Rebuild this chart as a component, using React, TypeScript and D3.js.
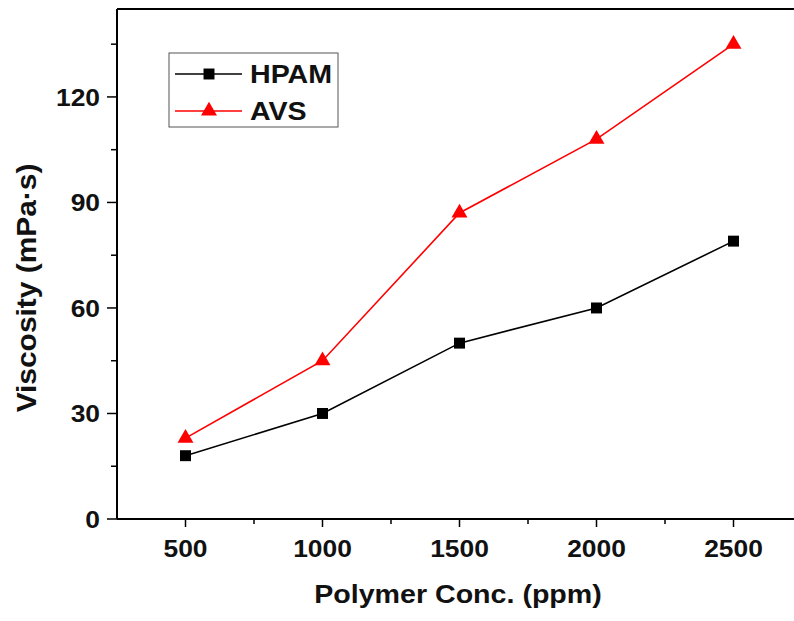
import React from "react";
import * as d3 from "d3";

const concentrations = [500, 1000, 1500, 2000, 2500];
const hpamValues = [18, 30, 50, 60, 79];
const avsValues = [23, 45, 87, 108, 135];
const xTicks = [500, 1000, 1500, 2000, 2500];
const xMinorTicks = [750, 1250, 1750, 2250];
const yTicks = [0, 30, 60, 90, 120];
const yMinorTicks = [15, 45, 75, 105, 135];

const W = 794;
const H = 621;
const FONT = "'Liberation Sans', Arial, sans-serif";
const SX = 1.1;

function T(props: { x: number; y: number; size: number; anchor?: string; dy?: string; children: React.ReactNode }) {
  return (
    <text
      transform={`translate(${props.x},${props.y}) scale(${SX},1)`}
      dy={props.dy}
      textAnchor={props.anchor || "start"}
      fontFamily={FONT}
      fontWeight="bold"
      fontSize={props.size}
      fill="#111"
    >
      {props.children}
    </text>
  );
}

export default function App() {
  const x = d3.scaleLinear().domain([250, 2750]).range([117, 802]);
  const y = d3.scaleLinear().domain([0, 145]).range([519, 9]);
  const line = d3
    .line<number>()
    .x((_, i) => x(concentrations[i]))
    .y((d) => y(d));
  const tri = d3.symbol().type(d3.symbolTriangle).size(110)();
  const sq = d3.symbol().type(d3.symbolSquare).size(120)();

  return (
    <div style={{ position: "absolute", left: 0, top: 0 }}>
      <svg width={W} height={H} style={{ display: "block", background: "#fff" }}>
        {/* frame */}
        <line x1={x(250)} x2={x(2750)} y1={y(145)} y2={y(145)} stroke="#000" strokeWidth={2} />
        <line x1={x(2750)} x2={x(2750)} y1={y(145)} y2={y(0)} stroke="#000" strokeWidth={2} />
        {/* axes */}
        <line x1={x(250)} x2={x(250)} y1={y(145)} y2={y(0)} stroke="#000" strokeWidth={2} />
        <line x1={x(250)} x2={x(2750)} y1={y(0)} y2={y(0)} stroke="#000" strokeWidth={2} />
        {yTicks.map((t) => (
          <g key={"yt" + t}>
            <line x1={x(250) - 10} x2={x(250)} y1={y(t)} y2={y(t)} stroke="#000" strokeWidth={1.5} />
            <T x={x(250) - 17} y={y(t)} dy="0.36em" anchor="end" size={24}>
              {t}
            </T>
          </g>
        ))}
        {yMinorTicks.map((t) => (
          <line key={"ym" + t} x1={x(250) - 6} x2={x(250)} y1={y(t)} y2={y(t)} stroke="#000" strokeWidth={1.5} />
        ))}
        {xTicks.map((t) => (
          <g key={"xt" + t}>
            <line x1={x(t)} x2={x(t)} y1={y(0)} y2={y(0) + 8} stroke="#000" strokeWidth={1.5} />
            <T x={x(t)} y={557} anchor="middle" size={24}>
              {t}
            </T>
          </g>
        ))}
        {xMinorTicks.map((t) => (
          <line key={"xm" + t} x1={x(t)} x2={x(t)} y1={y(0)} y2={y(0) + 5} stroke="#000" strokeWidth={1.5} />
        ))}
        {/* axis titles */}
        <T x={458} y={603} anchor="middle" size={26}>
          Polymer Conc. (ppm)
        </T>
        <text
          transform="translate(36,288) rotate(-90) scale(1.15,1.08)"
          textAnchor="middle"
          fontFamily={FONT}
          fontWeight="bold"
          fontSize={26}
          fill="#111"
        >
          Viscosity (mPa·s)
        </text>
        {/* series */}
        <path d={line(hpamValues) || ""} fill="none" stroke="#000" strokeWidth={1.6} />
        <path d={line(avsValues) || ""} fill="none" stroke="#f00" strokeWidth={1.6} />
        {hpamValues.map((v, i) => (
          <path key={"h" + i} d={sq || ""} transform={`translate(${x(concentrations[i])},${y(v)})`} fill="#000" />
        ))}
        {avsValues.map((v, i) => (
          <path key={"a" + i} d={tri || ""} transform={`translate(${x(concentrations[i])},${y(v)})`} fill="#f00" />
        ))}
        {/* legend */}
        <rect x={169} y={53} width={169} height={74} fill="#fff" stroke="#555" strokeWidth={1} />
        <line x1={175} x2={242} y1={74} y2={74} stroke="#000" strokeWidth={1.5} />
        <path d={sq || ""} transform="translate(209,74)" fill="#000" />
        <T x={250} y={74} dy="0.36em" size={26}>HPAM</T>
        <line x1={175} x2={242} y1={111} y2={111} stroke="#f00" strokeWidth={1.5} />
        <path d={tri || ""} transform="translate(209,111)" fill="#f00" />
        <T x={250} y={111} dy="0.36em" size={26}>AVS</T>
      </svg>
    </div>
  );
}
